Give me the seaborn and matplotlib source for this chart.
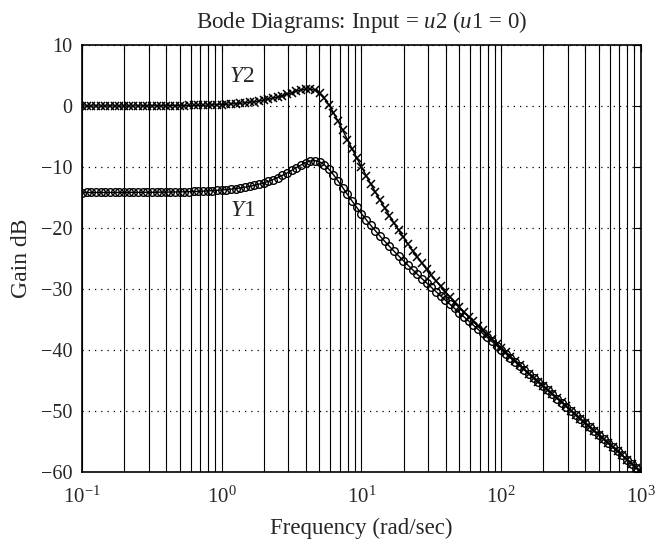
import matplotlib
matplotlib.use('Agg')
import matplotlib.pyplot as plt
import seaborn as sns
import pandas as pd
from matplotlib.ticker import LogLocator, NullFormatter

# frequency points (rad/sec), 30 per decade
freq = [0.1, 0.108, 0.1166, 0.1259, 0.1359, 0.1468, 0.1585, 0.1711, 0.1848, 0.1995,
        0.2154, 0.2326, 0.2512, 0.2712, 0.2929, 0.3162, 0.3415, 0.3687, 0.3981, 0.4299,
        0.4642, 0.5012, 0.5412, 0.5843, 0.631, 0.6813, 0.7356, 0.7943, 0.8577, 0.9261,
        1.0, 1.08, 1.166, 1.259, 1.359, 1.468, 1.585, 1.711, 1.848, 1.995,
        2.154, 2.326, 2.512, 2.712, 2.929, 3.162, 3.415, 3.687, 3.981, 4.299,
        4.642, 5.012, 5.412, 5.843, 6.31, 6.813, 7.356, 7.943, 8.577, 9.261,
        10.0, 10.8, 11.66, 12.59, 13.59, 14.68, 15.85, 17.11, 18.48, 19.95,
        21.54, 23.26, 25.12, 27.12, 29.29, 31.62, 34.15, 36.87, 39.81, 42.99,
        46.42, 50.12, 54.12, 58.43, 63.1, 68.13, 73.56, 79.43, 85.77, 92.61,
        100.0, 108.0, 116.6, 125.9, 135.9, 146.8, 158.5, 171.1, 184.8, 199.5,
        215.4, 232.6, 251.2, 271.2, 292.9, 316.2, 341.5, 368.7, 398.1, 429.9,
        464.2, 501.2, 541.2, 584.3, 631.0, 681.3, 735.6, 794.3, 857.7, 926.1,
        1000.0]

# gain of output Y2 (dB)
gain_y2 = [0.00, 0.00, 0.00, 0.00, 0.00, 0.01, 0.01, 0.01, 0.01, 0.01,
           0.01, 0.01, 0.02, 0.02, 0.02, 0.02, 0.03, 0.03, 0.04, 0.04,
           0.05, 0.06, 0.07, 0.08, 0.10, 0.11, 0.13, 0.15, 0.18, 0.21,
           0.24, 0.28, 0.33, 0.38, 0.45, 0.52, 0.61, 0.70, 0.82, 0.95,
           1.10, 1.27, 1.47, 1.69, 1.92, 2.17, 2.42, 2.64, 2.79, 2.79,
           2.58, 2.09, 1.28, 0.20, -1.10, -2.53, -4.02, -5.53, -7.04, -8.53,
           -9.98, -11.41, -12.79, -14.15, -15.46, -16.74, -17.99, -19.21, -20.39, -21.53,
           -22.65, -23.73, -24.78, -25.80, -26.78, -27.74, -28.68, -29.58, -30.46, -31.32,
           -32.16, -32.98, -33.78, -34.56, -35.33, -36.09, -36.83, -37.57, -38.29, -39.01,
           -39.72, -40.43, -41.13, -41.82, -42.51, -43.20, -43.89, -44.57, -45.25, -45.93,
           -46.61, -47.28, -47.95, -48.63, -49.30, -49.97, -50.64, -51.31, -51.98, -52.65,
           -53.32, -53.99, -54.66, -55.32, -55.99, -56.66, -57.33, -58.00, -58.66, -59.33,
           -60.00]

# gain of output Y1 (dB)
gain_y1 = [-14.20, -14.19, -14.19, -14.19, -14.19, -14.19, -14.19, -14.19, -14.19, -14.18,
           -14.18, -14.18, -14.17, -14.17, -14.16, -14.16, -14.15, -14.14, -14.13, -14.12,
           -14.11, -14.09, -14.08, -14.06, -14.03, -14.01, -13.97, -13.94, -13.89, -13.84,
           -13.78, -13.72, -13.64, -13.55, -13.44, -13.32, -13.18, -13.01, -12.82, -12.61,
           -12.36, -12.07, -11.75, -11.39, -11.00, -10.57, -10.12, -9.69, -9.30, -9.03,
           -8.96, -9.15, -9.63, -10.37, -11.29, -12.33, -13.42, -14.52, -15.60, -16.65,
           -17.66, -18.64, -19.58, -20.48, -21.35, -22.20, -23.03, -23.83, -24.61, -25.38,
           -26.13, -26.87, -27.61, -28.33, -29.04, -29.75, -30.45, -31.15, -31.84, -32.53,
           -33.22, -33.90, -34.58, -35.26, -35.94, -36.61, -37.29, -37.96, -38.63, -39.30,
           -39.97, -40.65, -41.31, -41.98, -42.65, -43.32, -43.99, -44.66, -45.33, -45.99,
           -46.66, -47.33, -48.00, -48.66, -49.33, -50.00, -50.66, -51.33, -52.00, -52.67,
           -53.33, -54.00, -54.67, -55.33, -56.00, -56.67, -57.33, -58.00, -58.67, -59.33,
           -60.00]

x_ticks = [0.1, 1, 10, 100, 1000]
x_tick_labels = [r'$10^{-1}$', r'$10^{0}$', r'$10^{1}$', r'$10^{2}$', r'$10^{3}$']
y_ticks = [-60, -50, -40, -30, -20, -10, 0, 10]

sns.set_style('white')
plt.rcParams['font.family'] = ['Liberation Serif', 'DejaVu Serif']
plt.rcParams['mathtext.fontset'] = 'custom'
plt.rcParams['mathtext.rm'] = 'Liberation Serif'
plt.rcParams['mathtext.it'] = 'Liberation Serif:italic'
plt.rcParams['axes.unicode_minus'] = True

df = pd.DataFrame({'freq': freq, 'Y2': gain_y2, 'Y1': gain_y1})

fig = plt.figure(figsize=(6.58, 5.51), dpi=100)
ax = fig.add_axes([0.1246, 0.1439, 0.8494, 0.7744])
ax.set_xscale('log')

sns.lineplot(data=df, x='freq', y='Y2', ax=ax, color='black', linewidth=1,
             marker='x', markersize=5.5, markeredgewidth=1.1, markeredgecolor='black')
sns.lineplot(data=df, x='freq', y='Y1', ax=ax, color='black', linewidth=1,
             marker='o', markersize=5.5, markeredgewidth=1, markeredgecolor='black',
             markerfacecolor='none')

ax.set_xlim(0.1, 1000)
ax.set_ylim(-60, 10)
ax.set_xticks(x_ticks)
ax.set_xticklabels(x_tick_labels)
ax.xaxis.set_minor_locator(LogLocator(base=10, subs=range(2, 10), numticks=20))
ax.xaxis.set_minor_formatter(NullFormatter())
ax.set_yticks(y_ticks)

ax.xaxis.grid(True, which='both', color='black', linestyle='-', linewidth=0.8)
ax.yaxis.grid(True, which='major', color='black', linestyle=(0, (1, 4)), linewidth=0.9)

ax.tick_params(axis='both', which='both', direction='in', top=True, right=True,
               length=5, width=0.8, color='black')
ax.tick_params(axis='x', labelsize=15, pad=11)
ax.tick_params(axis='y', labelsize=14.5, pad=7)
for s in ax.spines.values():
    s.set_color('black')
    s.set_linewidth(1.2)

ax.set_xlabel('Frequency (rad/sec)', fontsize=16.5, labelpad=7)
ax.set_ylabel('Gain dB', fontsize=17, labelpad=6)
ax.set_title(r'Bode Diagrams: Input = $\mathit{u2}$ ($\mathit{u1}$ = 0)', fontsize=16.5, pad=12)

ax.text(1.40, 4.9, r'$\mathit{Y2}$', fontsize=17, ha='center', va='center')
ax.text(1.42, -17.1, r'$\mathit{Y1}$', fontsize=17, ha='center', va='center')

fig.savefig('out.png', dpi=100)
